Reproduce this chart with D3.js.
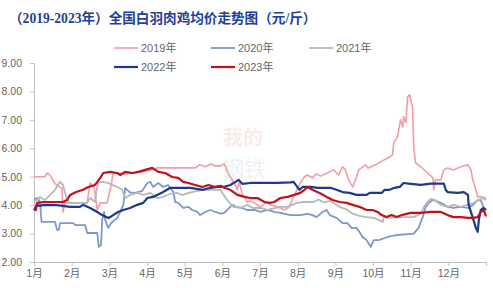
<!DOCTYPE html>
<html lang="zh">
<head>
<meta charset="UTF-8">
<script src="https://d3js.org/d3.v7.min.js"></script>
<title>全国白羽肉鸡均价走势图</title>
<style>
  body { margin: 0; background: #fff; }
  svg { display: block; }
</style>
</head>
<body>
<script>
// data: [month position, price 元/斤]
var years = ["2019年", "2020年", "2021年", "2022年", "2023年"];
var colors = ["#F29CA6", "#7D98C9", "#B8B8B8", "#1B3A8C", "#C0121B"];
var widths = [1.6, 1.8, 1.8, 2.2, 2.2];
var monthLabels = ["1月","2月","3月","4月","5月","6月","7月","8月","9月","10月","11月","12月"];
var yTicks = [2, 3, 4, 5, 6, 7, 8, 9];

var p2019 = [[0,5.0],[0.29,5.0],[0.35,5.13],[0.43,5.05],[0.56,4.75],[0.69,4.64],[0.74,4.6],[0.77,3.76],[0.82,4.08],[1.1,4.08],[1.41,4.08],[1.49,4.78],[1.6,4.6],[1.68,3.83],[1.76,4.08],[1.94,4.08],[2.05,4.7],[2.10,5.13],[2.42,5.1],[2.74,5.15],[3.0,5.2],[3.27,5.31],[4.28,5.31],[4.4,5.42],[4.55,5.35],[4.7,5.45],[4.81,5.38],[4.95,5.38],[5.05,5.45],[5.13,5.2],[5.21,4.99],[5.35,4.7],[5.40,4.54],[5.45,4.85],[5.53,4.36],[5.59,4.29],[5.66,4.1],[5.74,4.15],[5.85,4.08],[6.01,3.94],[6.2,4.11],[6.28,4.01],[6.46,3.94],[6.65,3.83],[6.78,3.94],[6.86,4.2],[6.94,4.43],[7.07,4.78],[7.18,5.0],[7.26,5.06],[7.39,4.96],[7.5,5.1],[7.61,5.02],[7.79,5.13],[7.95,5.24],[8.09,5.06],[8.19,5.35],[8.27,5.24],[8.35,4.89],[8.46,4.64],[8.54,4.89],[8.62,5.24],[8.80,5.42],[8.87,5.3],[8.94,5.35],[9.07,5.42],[9.20,5.52],[9.39,5.66],[9.52,5.77],[9.55,6.19],[9.65,6.40],[9.73,7.0],[9.79,6.75],[9.81,7.11],[9.87,6.9],[9.92,7.81],[9.97,7.88],[10.05,7.46],[10.08,6.05],[10.13,5.49],[10.27,5.35],[10.45,5.13],[10.59,4.96],[10.61,4.54],[10.66,4.89],[10.80,4.89],[10.88,5.24],[10.98,5.31],[11.14,5.24],[11.33,5.35],[11.52,5.42],[11.60,5.24],[11.65,4.89],[11.73,4.54],[11.78,4.29],[11.91,4.29],[12.0,4.25]];

var p2020 = [[0,4.2],[0.1,4.25],[0.16,4.1],[0.2,3.41],[0.56,3.41],[0.61,3.13],[0.66,3.13],[0.69,3.37],[1.04,3.37],[1.1,3.3],[1.36,3.3],[1.41,3.02],[1.68,3.02],[1.72,2.53],[1.78,2.6],[1.81,3.48],[1.86,3.76],[1.89,3.48],[1.97,3.2],[2.05,3.37],[2.21,3.55],[2.29,3.76],[2.37,4.01],[2.42,4.6],[2.55,4.45],[2.69,4.43],[2.87,4.5],[3.01,4.78],[3.09,4.82],[3.16,4.64],[3.30,4.78],[3.43,4.64],[3.56,4.71],[3.70,4.46],[3.75,4.11],[3.83,4.08],[3.96,3.90],[4.10,3.94],[4.20,3.83],[4.34,3.76],[4.41,3.65],[4.55,3.76],[4.68,3.83],[4.81,3.76],[4.95,3.7],[5.05,3.73],[5.21,3.94],[5.27,4.01],[5.35,3.94],[5.53,3.90],[5.66,3.83],[5.85,3.83],[6.01,3.76],[6.20,3.83],[6.38,3.76],[6.54,3.73],[6.81,3.65],[7.07,3.65],[7.26,3.69],[7.39,3.65],[7.50,3.58],[7.66,3.76],[7.77,3.83],[7.85,3.65],[8.03,3.55],[8.19,3.37],[8.32,3.37],[8.43,3.20],[8.56,3.20],[8.64,3.06],[8.72,2.88],[8.83,2.77],[8.94,2.53],[9.02,2.77],[9.15,2.77],[9.39,2.88],[9.65,2.95],[10.08,3.0],[10.21,3.2],[10.32,3.58],[10.40,3.94],[10.48,4.08],[10.59,4.18],[10.80,4.08],[10.98,3.94],[11.14,3.9],[11.33,3.94],[11.52,3.9],[11.65,4.0],[11.78,4.18],[11.86,4.18],[11.94,3.90],[12.0,3.83]];

var p2021 = [[0,4.15],[0.08,4.18],[0.16,4.29],[0.29,4.18],[0.43,4.36],[0.56,4.54],[0.69,4.82],[0.77,4.71],[0.82,4.46],[0.88,4.18],[0.96,4.08],[1.41,4.08],[1.49,4.25],[1.62,4.11],[1.66,4.5],[1.70,4.78],[1.81,4.82],[1.97,4.78],[2.07,4.71],[2.21,4.64],[2.34,4.54],[2.42,4.25],[2.55,4.36],[2.74,4.43],[2.90,4.36],[3.09,4.43],[3.27,4.25],[3.43,4.29],[3.62,4.4],[3.80,4.43],[3.94,4.35],[4.15,4.45],[4.49,4.54],[4.95,4.54],[5.0,4.43],[5.13,4.18],[5.29,3.94],[5.48,3.90],[5.66,4.01],[5.82,3.90],[6.01,3.90],[6.20,3.83],[6.54,3.94],[6.73,3.94],[6.99,4.08],[7.15,4.11],[7.42,4.11],[7.55,4.2],[7.69,4.1],[7.87,4.15],[8.11,3.94],[8.3,3.85],[8.46,3.7],[8.64,3.62],[8.83,3.58],[9.02,3.55],[9.15,3.48],[9.26,3.41],[9.28,3.6],[9.39,3.55],[9.65,3.58],[9.81,3.58],[10.08,3.58],[10.27,3.7],[10.35,3.94],[10.45,4.11],[10.53,4.22],[10.66,4.18],[10.72,4.08],[10.8,4.01],[10.98,3.94],[11.14,4.01],[11.33,3.94],[11.52,4.01],[11.68,4.08],[11.81,4.18],[11.91,4.25],[12.0,4.18]];

var p2022 = [[0,3.83],[0.08,4.01],[0.16,3.97],[0.24,4.01],[0.61,4.0],[0.96,3.94],[1.22,3.94],[1.30,4.01],[1.49,3.9],[1.68,3.76],[1.81,3.65],[1.89,3.6],[1.97,3.55],[2.07,3.62],[2.23,3.76],[2.37,3.83],[2.55,3.9],[2.74,4.01],[2.90,4.08],[3.01,4.25],[3.16,4.29],[3.27,4.36],[3.43,4.46],[3.62,4.61],[3.96,4.61],[4.15,4.61],[4.49,4.54],[4.68,4.61],[4.87,4.64],[5.03,4.64],[5.21,4.71],[5.35,4.82],[5.43,4.89],[5.53,4.75],[5.74,4.78],[5.93,4.78],[6.2,4.78],[6.46,4.78],[6.81,4.8],[6.89,4.82],[6.99,4.64],[7.05,4.54],[7.13,4.64],[7.34,4.64],[7.53,4.61],[7.87,4.61],[8.03,4.54],[8.19,4.46],[8.38,4.43],[8.56,4.36],[8.83,4.36],[8.91,4.43],[9.23,4.43],[9.31,4.54],[9.44,4.54],[9.57,4.61],[9.71,4.64],[9.81,4.78],[10.0,4.75],[10.27,4.71],[10.53,4.76],[10.88,4.76],[10.93,4.54],[10.98,4.46],[11.25,4.43],[11.41,4.46],[11.52,4.36],[11.54,4.01],[11.65,3.55],[11.73,3.2],[11.78,3.06],[11.81,3.48],[11.86,3.83],[11.94,3.9],[12.0,3.83]];

var p2023 = [[0,3.83],[0.05,3.83],[0.08,4.08],[0.24,4.11],[0.77,4.11],[0.88,4.18],[0.96,4.36],[1.12,4.46],[1.30,4.54],[1.44,4.64],[1.62,4.71],[1.68,4.82],[1.76,4.96],[1.84,5.13],[2.02,5.17],[2.21,5.13],[2.29,5.06],[2.42,5.17],[2.61,5.13],[2.77,5.17],[2.95,5.24],[3.14,5.31],[3.30,5.17],[3.48,5.13],[3.67,4.99],[3.83,4.96],[3.96,4.82],[4.10,4.78],[4.28,4.71],[4.47,4.64],[4.63,4.71],[4.81,4.64],[4.95,4.68],[5.05,4.61],[5.21,4.54],[5.40,4.36],[5.59,4.29],[5.74,4.25],[5.93,4.25],[6.12,4.11],[6.25,4.08],[6.38,4.11],[6.54,4.25],[6.73,4.29],[6.91,4.36],[7.07,4.43],[7.18,4.54],[7.26,4.64],[7.39,4.54],[7.58,4.43],[7.77,4.29],[7.93,4.18],[8.11,4.11],[8.30,4.08],[8.46,4.01],[8.64,3.94],[8.83,3.83],[8.99,3.83],[9.12,3.76],[9.23,3.65],[9.36,3.58],[9.49,3.65],[9.63,3.58],[9.76,3.65],[10.0,3.73],[10.27,3.73],[10.53,3.76],[10.80,3.76],[10.98,3.65],[11.14,3.58],[11.33,3.58],[11.52,3.55],[11.65,3.55],[11.78,3.58],[11.86,3.76],[11.94,3.83],[12.0,3.6]];

var series = [p2019, p2020, p2021, p2022, p2023];

var svg = d3.select("body").append("svg").attr("width", 493).attr("height", 288);
var axisFont = "'Liberation Sans','Noto Sans CJK SC',sans-serif";

// title
svg.append("text").attr("x", 9).attr("y", 23)
   .style("font-family", "'Liberation Serif','Noto Sans CJK SC',serif")
   .style("font-size", "13.6px").style("font-weight", "bold").style("fill", "#1F3F95")
   .text("（2019-2023年）全国白羽肉鸡均价走势图（元/斤）");

var x = d3.scaleLinear().domain([0, 12]).range([34, 486]);
var y = d3.scaleLinear().domain([2, 9]).range([262, 63]);

// faint watermark
svg.append("text").attr("x", 243).attr("y", 145).attr("text-anchor", "middle")
   .style("font-family", "'Noto Sans CJK SC'").style("font-size", "20px").style("font-weight", "bold")
   .style("fill", "#D04040").style("opacity", 0.1).text("我的");
svg.append("text").attr("x", 244).attr("y", 177).attr("text-anchor", "middle")
   .style("font-family", "'Noto Sans CJK SC'").style("font-size", "22px")
   .style("fill", "#4060A0").style("opacity", 0.09).text("钢铁");

// axes
svg.append("g").attr("transform", "translate(34,0)")
   .call(d3.axisLeft(y).tickValues(yTicks).tickFormat(d3.format(".2f")).tickSize(4).tickSizeOuter(0).tickPadding(8));
svg.append("g").attr("transform", "translate(0,262)")
   .call(d3.axisBottom(x).tickValues(d3.range(0, 13)).tickFormat(function(d){ return monthLabels[d] || ""; })
   .tickSize(4).tickSizeOuter(0).tickPadding(4));
svg.selectAll(".domain, .tick line").attr("stroke", "#BFBFBF");
svg.selectAll(".tick text").style("font-family", axisFont).style("font-size", "10.5px").style("fill", "#666");

// lines
var line = d3.line().x(function(d){ return x(d[0]); }).y(function(d){ return y(d[1]); });
svg.selectAll("path.series").data(series).join("path").attr("class", "series")
   .attr("d", line).attr("fill", "none")
   .attr("stroke", function(d, i){ return colors[i]; })
   .attr("stroke-width", function(d, i){ return widths[i]; })
   .attr("stroke-linejoin", "round");

// legend
var legendPos = [[114, 48], [211, 48], [309, 48], [114, 67], [211, 67]];
var lg = svg.selectAll("g.legend").data(years).join("g").attr("class", "legend")
   .attr("transform", function(d, i){ return "translate(" + legendPos[i][0] + "," + legendPos[i][1] + ")"; });
lg.append("line").attr("x1", 0).attr("x2", 24).attr("y1", 0).attr("y2", 0)
   .attr("stroke", function(d, i){ return colors[i]; })
   .attr("stroke-width", function(d, i){ return widths[i]; });
lg.append("text").attr("x", 27).attr("y", 4)
   .style("font-family", axisFont).style("font-size", "11px").style("fill", "#666")
   .text(function(d){ return d; });
</script>
</body>
</html>
